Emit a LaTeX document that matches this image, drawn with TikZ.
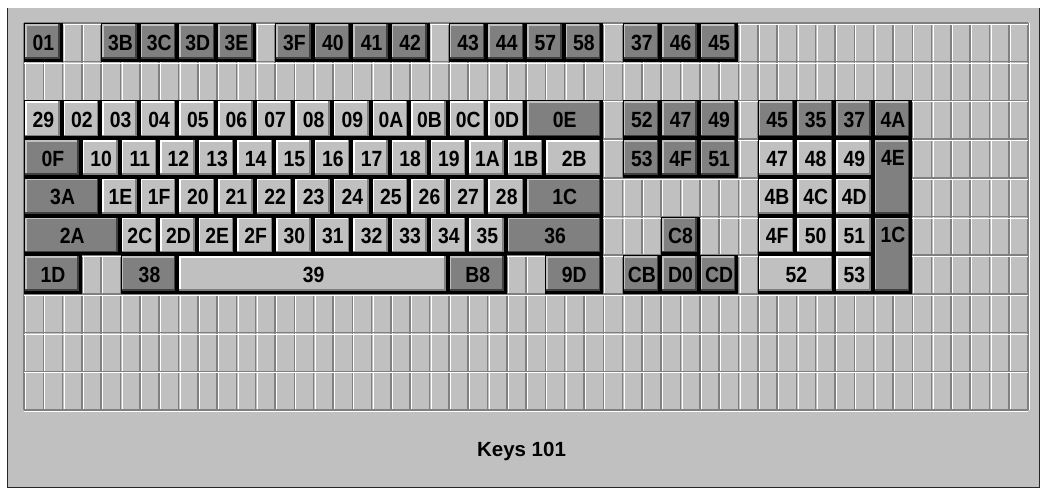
\documentclass[tikz,border=0pt]{standalone}
\usepackage{fontspec}
\newfontfamily\keyfont[FakeStretch=0.88]{Liberation Sans}
\newfontfamily\captionfont{Liberation Sans}
\usepackage{xcolor}
\usepackage{tikz}

\definecolor{panel}{HTML}{C0C0C0}
\definecolor{keylight}{HTML}{C0C0C0}
\definecolor{keydark}{HTML}{808080}
\definecolor{keyshade}{HTML}{404040}
\definecolor{gridline}{HTML}{808080}

% grid geometry (px)
\newcommand{\gridx}{24}
\newcommand{\gridy}{23}
\newcommand{\colw}{19.31}
\newcommand{\rowh}{38.7}

\begin{document}
\begin{tikzpicture}[
    x=1pt, y=-1pt,
    key/.style={rectangle, inner sep=0pt, outer sep=0pt, fill=black,
                minimum height=\rowh pt, text height=15.5pt, text depth=0pt,
                font=\keyfont\bfseries\fontsize{22}{22}\selectfont},
    bevel/.style n args={3}{path picture={
        \fill[#1] ([shift={(1pt,-1pt)}]path picture bounding box.north west)
            rectangle ([shift={(-3pt,3pt)}]path picture bounding box.south east);
        \draw[#2, line width=1.5pt]
            ([shift={(1.75pt,3pt)}]path picture bounding box.south west)
            -- ([shift={(1.75pt,-1.75pt)}]path picture bounding box.north west)
            -- ([shift={(-3pt,-1.75pt)}]path picture bounding box.north east);
        \draw[#3, line width=1.5pt]
            ([shift={(1pt,3.75pt)}]path picture bounding box.south west)
            -- ([shift={(-3.75pt,3.75pt)}]path picture bounding box.south east)
            -- ([shift={(-3.75pt,-1pt)}]path picture bounding box.north east);
    }},
    lkey/.style={key, bevel={keylight}{white}{keydark}},
    dkey/.style={key, bevel={keydark}{keylight}{keyshade}},
    span/.style={minimum width={#1*\colw}},
    tall/.style={minimum height={2*\rowh}, text depth=40pt},
    title/.style={font=\captionfont\bfseries\fontsize{20.5}{20.5}\selectfont, anchor=base},
]
% Window
\fill[white] (0,0) rectangle (1041,490);
\useasboundingbox (0,0) rectangle (1041,490);
\fill[panel] (7,8) rectangle (1040,488);
\draw[black!85, line width=1.2pt] (7.5,8) -- (7.5,487.5) -- (1039.5,487.5) -- (1039.5,8);

% Cell grid
\foreach \i in {0,...,52} {
  \draw[gridline, line width=1.5pt] ({\gridx+\i*\colw},\gridy) -- ({\gridx+\i*\colw},{\gridy+10*\rowh});
  \draw[white, line width=0.8pt] ({\gridx+\i*\colw+1.5},\gridy) -- ({\gridx+\i*\colw+1.5},{\gridy+10*\rowh});
}
\foreach \j in {0,...,10} {
  \draw[gridline, line width=1.5pt] (\gridx,{\gridy+\j*\rowh}) -- ({\gridx+52*\colw},{\gridy+\j*\rowh});
  \draw[white, line width=0.8pt] (\gridx,{\gridy+\j*\rowh+1.4}) -- ({\gridx+52*\colw},{\gridy+\j*\rowh+1.4});
}

% Dark keys (row/column/width/scan code)
\foreach \r/\c/\n/\t in {
    0/0/2/01, 0/4/2/3B, 0/6/2/3C, 0/8/2/3D, 0/10/2/3E, 0/13/2/3F, 0/15/2/40,
    0/17/2/41, 0/19/2/42, 0/22/2/43, 0/24/2/44, 0/26/2/57, 0/28/2/58,
    0/31/2/37, 0/33/2/46, 0/35/2/45,
    2/26/4/0E, 2/31/2/52, 2/33/2/47, 2/35/2/49, 2/38/2/45, 2/40/2/35,
    2/42/2/37, 2/44/2/4A,
    3/0/3/0F, 3/31/2/53, 3/33/2/4F, 3/35/2/51,
    4/0/4/3A, 4/26/4/1C,
    5/0/5/2A, 5/25/5/36, 5/33/2/C8,
    6/0/3/1D, 6/5/3/38, 6/22/3/B8, 6/27/3/9D, 6/31/2/CB, 6/33/2/D0, 6/35/2/CD}
  \node[dkey, span=\n] (k\r-\c) at ({\gridx+(\c+\n/2)*\colw},{\gridy+(\r+0.5)*\rowh}) {\t};

% Light keys
\foreach \r/\c/\n/\t in {
    2/0/2/29, 2/2/2/02, 2/4/2/03, 2/6/2/04, 2/8/2/05, 2/10/2/06, 2/12/2/07,
    2/14/2/08, 2/16/2/09, 2/18/2/0A, 2/20/2/0B, 2/22/2/0C, 2/24/2/0D,
    3/3/2/10, 3/5/2/11, 3/7/2/12, 3/9/2/13, 3/11/2/14, 3/13/2/15, 3/15/2/16,
    3/17/2/17, 3/19/2/18, 3/21/2/19, 3/23/2/1A, 3/25/2/1B, 3/27/3/2B,
    3/38/2/47, 3/40/2/48, 3/42/2/49,
    4/4/2/1E, 4/6/2/1F, 4/8/2/20, 4/10/2/21, 4/12/2/22, 4/14/2/23, 4/16/2/24,
    4/18/2/25, 4/20/2/26, 4/22/2/27, 4/24/2/28,
    4/38/2/4B, 4/40/2/4C, 4/42/2/4D,
    5/5/2/2C, 5/7/2/2D, 5/9/2/2E, 5/11/2/2F, 5/13/2/30, 5/15/2/31, 5/17/2/32,
    5/19/2/33, 5/21/2/34, 5/23/2/35,
    5/38/2/4F, 5/40/2/50, 5/42/2/51,
    6/8/14/39, 6/38/4/52, 6/42/2/53}
  \node[lkey, span=\n] (k\r-\c) at ({\gridx+(\c+\n/2)*\colw},{\gridy+(\r+0.5)*\rowh}) {\t};

% Keypad keys over two rows
\node[dkey, span=2, tall] (k3-44) at ({\gridx+45*\colw},{\gridy+4*\rowh}) {4E};
\node[dkey, span=2, tall] (k5-44) at ({\gridx+45*\colw},{\gridy+6*\rowh}) {1C};

% Caption
\node[title] (caption) at (521.5,456.5) {Keys 101};
\end{tikzpicture}
\end{document}
